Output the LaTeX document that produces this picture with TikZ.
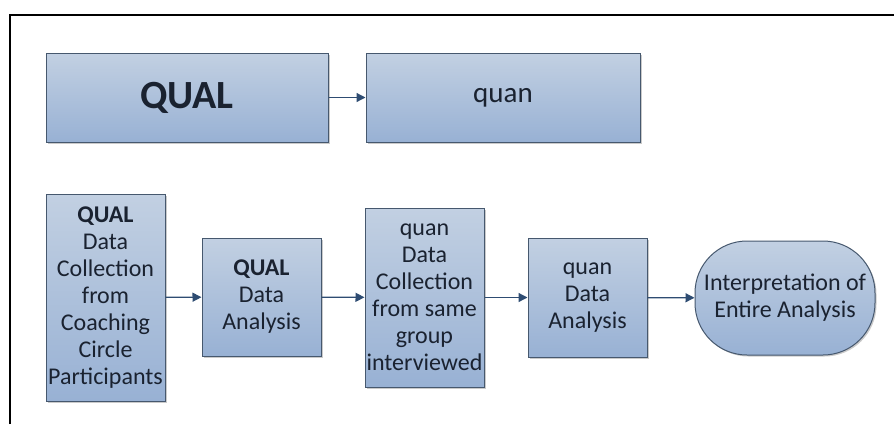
\documentclass[tikz,border=0pt]{standalone}
\usepackage{fontspec}
\setmainfont{Carlito}
\usetikzlibrary{arrows.meta,shadows}
\definecolor{boxtop}{HTML}{C2D0E2}
\definecolor{boxbot}{HTML}{98B1D4}
\definecolor{boxedge}{HTML}{46586E}
\definecolor{arrowc}{HTML}{2E4C72}
\definecolor{inkc}{HTML}{1A2230}
\tikzset{
  flowbox/.style={draw=boxedge, line width=1pt, top color=boxtop, bottom color=boxbot,
    text=inkc, align=center, inner sep=0pt,
    drop shadow={shadow xshift=1.5pt, shadow yshift=-1.5pt, opacity=0.35, fill=black!60}},
  bigbox/.style={flowbox, font=\fontsize{29}{34}\selectfont},
  smallbox/.style={flowbox, font=\fontsize{24}{27}\selectfont},
  flowarrow/.style={draw=arrowc, line width=1.3pt, -{Triangle[length=9pt,width=9pt]}},
}
\begin{document}
\begin{tikzpicture}[x=1pt,y=-1pt]
  \useasboundingbox (0,0) rectangle (894,424);
  % page frame, open at right and bottom
  \draw[line width=2pt, black] (10,424) -- (10,15) -- (894,15);

  % design overview
  \node[bigbox, minimum width=282pt, minimum height=89pt, font=\fontsize{40}{46}\selectfont\bfseries] (qual) at (187,97.5) {QUAL};
  \node[bigbox, minimum width=274pt, minimum height=89pt] (quan) at (503,97.5) {quan};
  \draw[flowarrow] (qual) -- (quan);

  % procedure steps
  \node[smallbox, minimum width=119pt, minimum height=207pt] (s1) at (105.5,297.5)
    {\textbf{QUAL}\\Data\\Collection\\from\\Coaching\\Circle\\Participants};
  \node[smallbox, minimum width=119pt, minimum height=118pt] (s2) at (261.5,297)
    {\textbf{QUAL}\\Data\\Analysis};
  \node[smallbox, minimum width=119pt, minimum height=179pt] (s3) at (424.5,297.5)
    {quan\\Data\\Collection\\from same\\group\\interviewed};
  \node[smallbox, minimum width=119pt, minimum height=119pt] (s4) at (587.5,297.5)
    {quan\\Data\\Analysis};
  \node[smallbox, minimum width=180pt, minimum height=114pt, rounded corners=52pt] (s5) at (785,298)
    {Interpretation of\\Entire Analysis};

  \draw[flowarrow] (s1) -- (s2);
  \draw[flowarrow] (s2) -- (s3);
  \draw[flowarrow] (s3) -- (s4);
  \draw[flowarrow] (s4) -- (s5);
\end{tikzpicture}
\end{document}
